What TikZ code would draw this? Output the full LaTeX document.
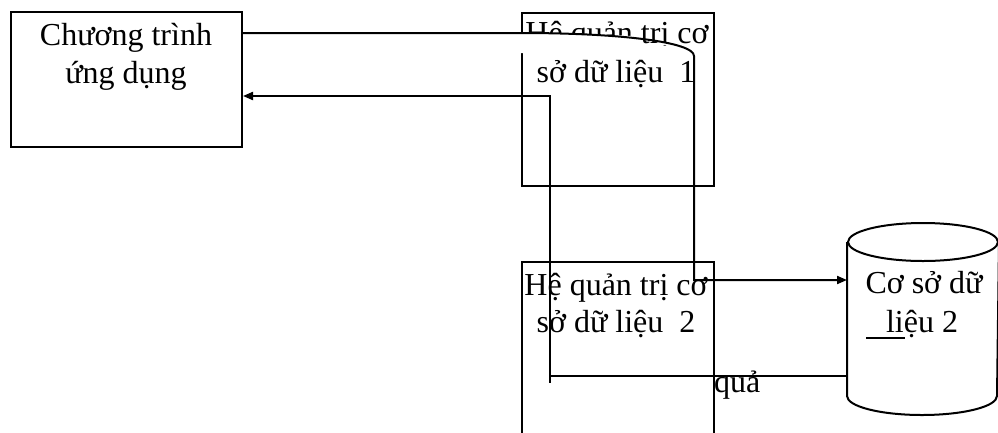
\documentclass[tikz,border=0pt]{standalone}
\usepackage{fontspec}
\setmainfont{Liberation Serif}
\usetikzlibrary{arrows.meta}
\begin{document}
\begin{tikzpicture}[x=1pt,y=-1pt, line width=2pt,
  boxshape/.style={draw, rectangle, inner sep=0pt, anchor=north west},
  lbl/.style={font=\fontsize{32}{38}\selectfont, inner sep=0pt, anchor=base},
  arr/.style={-{Triangle[length=10pt,width=8pt]}}]
\clip (0,0) rectangle (998,432);
\fill[white] (0,0) rectangle (998,432);
% boxes
\node[boxshape, minimum width=231pt, minimum height=135pt] (app) at (10,11) {};
\node[boxshape, minimum width=192pt, minimum height=173pt] (dbms1) at (521,12) {};
\node[boxshape, minimum width=192pt, minimum height=200pt] (dbms2) at (521,261) {};
\node[rectangle, inner sep=0pt, anchor=north west, minimum width=150pt, minimum height=152pt] (db) at (847,242) {};
% cylinder
\draw (db.north west) -- (db.south west) arc[start angle=180, end angle=360, x radius=75pt, y radius=19pt] -- (db.north east);
\draw (db.north) ellipse[x radius=75pt, y radius=19pt];
% texts
\node[lbl] (t1) at (126,45) {Chương trình};
\node[lbl] (t2) at (126,83) {ứng dụng};
\node[lbl] (t3) at (617,43) {Hệ quản trị cơ};
\node[lbl] (t4) at (616,82) {sở dữ liệu~ 1};
\node[lbl] (t5) at (616,295) {Hệ quản trị cơ};
\node[lbl] (t6) at (616,332) {sở dữ liệu~ 2};
\node[lbl] (t7) at (924,293) {Cơ sở dữ};
\node[lbl] (t8) at (922,332) {liệu 2};
\node[lbl, anchor=base west] (t9) at (713,392) {quả};
\draw (866,338) -- (905,338);
% mask over first text line
\fill[white] (519,33) .. controls (570,33.3) and (610,34.5) .. (639,36.5) -- (639,45.5) -- (692,45.5) -- (692,53) -- (519,53) -- (519,50) -- cycle;
% connectors
\draw[arr] (app.east |- 0,33) -- (521,33) .. controls (620,33) and (694,42) .. (694,56) -- (694,280) -- (db.west |- 0,280);
\draw[arr] (db.west |- 0,376) -- (550,376) -- (550,96) -- (app.east |- 0,96);
\draw (550,376) -- (550,383);
\end{tikzpicture}
\end{document}
